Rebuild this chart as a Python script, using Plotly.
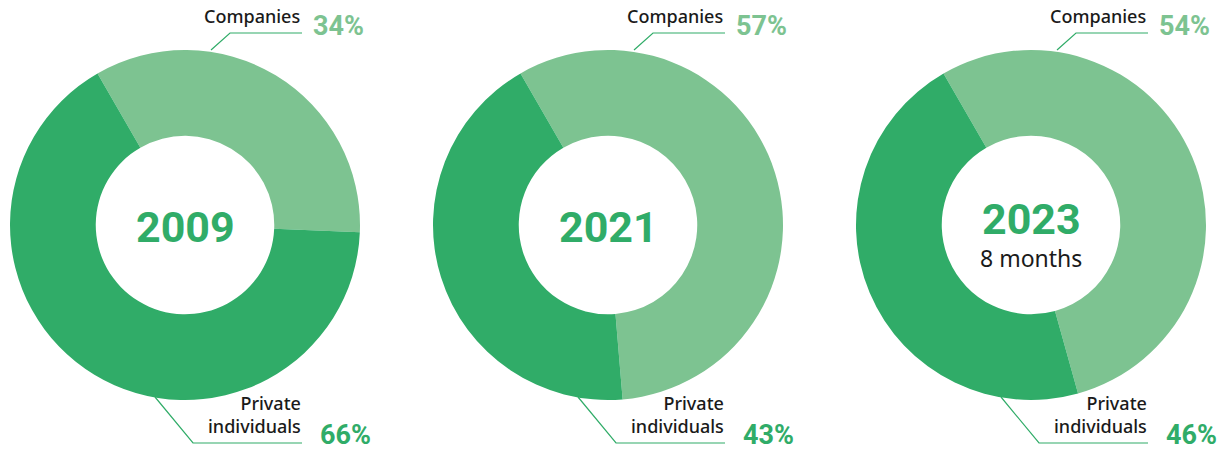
import plotly.graph_objects as go

# ---- data ----
years = ["2009", "2021", "2023"]
subtitles = ["", "", "8 months"]
categories = ["Companies", "Private individuals"]
companies_pct = [34, 57, 54]
private_pct = [66, 43, 46]

LIGHT = "#7dc391"
DARK = "#30ac68"
TEXT = "#1a1a1a"

W, H = 1224, 450
fig = go.Figure()

def px(x):
    return x / W

def py(y):
    return 1 - y / H

centers = [185, 608, 1031]
R = 175
CY = 225

annotations = []
shapes = []
for i, yr in enumerate(years):
    cx = centers[i]
    fig.add_trace(go.Pie(
        labels=categories,
        values=[companies_pct[i], private_pct[i]],
        marker=dict(colors=[LIGHT, DARK], line=dict(width=0)),
        hole=0.51,
        sort=False,
        direction="clockwise",
        rotation=-30,
        textinfo="none",
        hoverinfo="label+percent",
        showlegend=False,
        domain=dict(x=[px(cx - R), px(cx + R)], y=[py(CY + R), py(CY - R)]),
    ))
    # center year
    if subtitles[i]:
        annotations.append(dict(x=px(cx), y=py(219), text=f"<b>{yr}</b>", showarrow=False,
                                font=dict(family="Roboto", size=43, color=DARK),
                                xanchor="center", yanchor="middle"))
        annotations.append(dict(x=px(cx), y=py(258), text=subtitles[i], showarrow=False,
                                font=dict(family="Noto Sans", size=23, color=TEXT),
                                xanchor="center", yanchor="middle"))
    else:
        annotations.append(dict(x=px(cx), y=py(227), text=f"<b>{yr}</b>", showarrow=False,
                                font=dict(family="Roboto", size=43, color=DARK),
                                xanchor="center", yanchor="middle"))
    # Companies label
    annotations.append(dict(x=px(cx + 117), y=py(16), text="Companies", showarrow=False,
                            font=dict(family="Noto Sans", size=18, color=TEXT, weight=500),
                            xanchor="right", yanchor="middle"))
    annotations.append(dict(x=px(cx + 126), y=py(26), text=f"<b>{companies_pct[i]}%</b>", showarrow=False,
                            font=dict(family="Roboto", size=27, color=LIGHT),
                            xanchor="left", yanchor="middle"))
    # Private label
    annotations.append(dict(x=px(cx + 118), y=py(414), text="Private<br>individuals", showarrow=False,
                            font=dict(family="Noto Sans", size=18, color=TEXT, weight=500),
                            xanchor="right", yanchor="middle", align="right"))
    annotations.append(dict(x=px(cx + 133), y=py(435), text=f"<b>{private_pct[i]}%</b>", showarrow=False,
                            font=dict(family="Roboto", size=27, color=DARK),
                            xanchor="left", yanchor="middle"))
    # leader lines
    shapes.append(dict(type="path", xref="paper", yref="paper",
                       path=f"M {px(cx+26)},{py(50)} L {px(cx+45)},{py(33)} L {px(cx+117)},{py(33)}",
                       line=dict(color=DARK, width=1.2)))
    shapes.append(dict(type="path", xref="paper", yref="paper",
                       path=f"M {px(cx-30)},{py(397)} L {px(cx+8)},{py(443)} L {px(cx+117)},{py(443)}",
                       line=dict(color=DARK, width=1.2)))

fig.update_layout(
    width=W, height=H,
    margin=dict(l=0, r=0, t=0, b=0),
    paper_bgcolor="white", plot_bgcolor="white",
    annotations=annotations,
    shapes=shapes,
)

fig.write_html("out.html", config={"displayModeBar": False},
               post_script="document.body.style.margin='0';document.body.style.overflow='hidden';")
